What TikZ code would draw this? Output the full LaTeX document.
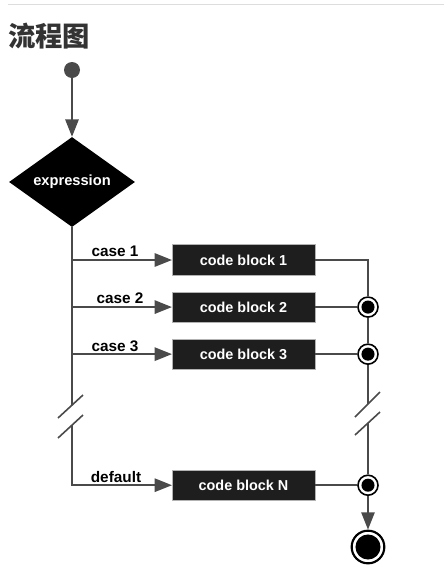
\documentclass[tikz,border=0pt]{standalone}
\usepackage{fontspec}
\setmainfont{Liberation Sans}
\newfontfamily\cjk{Noto Sans CJK SC}
\usepackage{xcolor}
\usetikzlibrary{shapes.geometric,arrows.meta,positioning,calc}
\definecolor{linegray}{HTML}{4A4A4A}
\definecolor{boxblack}{HTML}{1E1E1E}
\definecolor{rulegray}{HTML}{DDDDDD}
\definecolor{titlegray}{HTML}{333333}

\begin{document}
\begin{tikzpicture}[
    x=0.75pt,y=-0.75pt,
    line/.style={draw=linegray,line width=1.4pt},
    arr/.style={line,-{Triangle[length=13pt,width=10pt]}},
    box/.style={rectangle,fill=boxblack,draw=gray!60,line width=0.3pt,minimum width=107pt,
                minimum height=23pt,inner sep=0pt,text=white,
                font=\bfseries\fontsize{10.8}{12}\selectfont},
    decision/.style={diamond,aspect=1.4,fill=black,minimum width=94.5pt,minimum height=67.5pt,
                     inner sep=0pt,text=white,font=\bfseries\fontsize{11}{12}\selectfont},
    junction/.style={circle,draw=black,fill=white,line width=1.2pt,minimum size=15pt,inner sep=0pt,
                     path picture={\fill[black] (path picture bounding box.center) circle (4.9pt);}},
    caselbl/.style={font=\bfseries\fontsize{11.5}{13}\selectfont,above,inner sep=1.5pt}
]
\useasboundingbox (0,0) rectangle (444,568);
\draw[rulegray,line width=0.75pt] (8,4) -- (444,4);
\node[anchor=west,inner sep=0pt,text=titlegray,font=\cjk\bfseries\fontsize{20.5}{24}\selectfont] (title) at (8,36) {流程图};

\node[circle,fill=linegray,minimum size=12pt,inner sep=0pt] (start) at (72,70) {};
\node[decision] (expr) at (72,182) {expression};
\node[box] (b1) at (243.5,260) {code block 1};
\node[box,below=12pt of b1] (b2) {code block 2};
\node[box,below=12pt of b2] (b3) {code block 3};
\node[box,below=75pt of b3] (bN) {code block N};

\coordinate (rx) at (368,0);
\node[junction] (j2) at (b2.east -| rx) {};
\node[junction] (j3) at (b3.east -| rx) {};
\node[junction] (jN) at (bN.east -| rx) {};
\node[circle,draw=black,fill=white,line width=1.6pt,minimum size=24.5pt,inner sep=0pt,
      path picture={\fill[black] (path picture bounding box.center) circle (9.4pt);}] (end) at (368,547) {};

% breaks in the two trunks
\coordinate (brkL1) at (72,405);
\coordinate (brkL2) at (72,425);
\coordinate (brkR1) at (368,404);
\coordinate (brkR2) at (368,423);
\draw[line,line width=1.2pt] ($(brkL1)+(-14,13)$) -- ($(brkL1)+(11,-10)$);
\draw[line,line width=1.2pt] ($(brkL2)+(-14,13)$) -- ($(brkL2)+(11,-10)$);
\draw[line,line width=1.2pt] ($(brkR1)+(-13,13)$) -- ($(brkR1)+(12,-12)$);
\draw[line,line width=1.2pt] ($(brkR2)+(-13,12)$) -- ($(brkR2)+(12,-11)$);

\draw[arr] (start) -- (expr.north);
\draw[line] (expr.south) -- (brkL1);
\draw[arr] (expr.south |- b1.west) -- node[caselbl,pos=0.43]{case 1} (b1.west);
\draw[arr] (expr.south |- b2.west) -- node[caselbl,pos=0.48]{case 2} (b2.west);
\draw[arr] (expr.south |- b3.west) -- node[caselbl,pos=0.43]{case 3} (b3.west);
\draw[arr] (brkL2) |- node[caselbl,pos=0.72]{default} (bN.west);

\draw[line] (b1.east) -| (j2);
\draw[line] (b2.east) -- (j2);
\draw[line] (j2) -- (j3);
\draw[line] (b3.east) -- (j3);
\draw[line] (j3) -- (brkR1);
\draw[line] (brkR2) -- (jN);
\draw[line] (bN.east) -- (jN);
\draw[arr] (jN) -- (end);
\end{tikzpicture}
\end{document}
